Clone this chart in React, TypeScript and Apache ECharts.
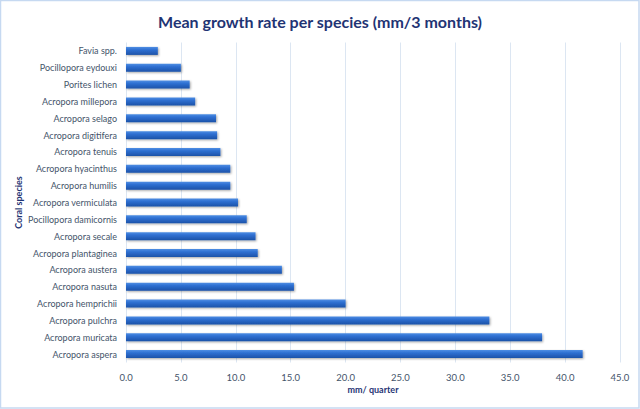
import React, { useEffect, useRef } from "react";
import * as echarts from "echarts";

const species = [
  "Favia spp.",
  "Pocillopora eydouxi",
  "Porites lichen",
  "Acropora millepora",
  "Acropora selago",
  "Acropora digitifera",
  "Acropora tenuis",
  "Acropora hyacinthus",
  "Acropora humilis",
  "Acropora vermiculata",
  "Pocillopora damicornis",
  "Acropora secale",
  "Acropora plantaginea",
  "Acropora austera",
  "Acropora nasuta",
  "Acropora hemprichii",
  "Acropora pulchra",
  "Acropora muricata",
  "Acropora aspera",
];

const growth = [
  2.9, 5.0, 5.8, 6.3, 8.2, 8.3, 8.6, 9.5, 9.5, 10.2, 11.0, 11.8, 12.0, 14.2,
  15.3, 20.0, 33.1, 37.9, 41.6,
];

const title = "Mean growth rate per species (mm/3 months)";
const xName = "mm/ quarter";
const yName = "Coral species";

export default function App() {
  const ref = useRef<HTMLDivElement>(null);
  useEffect(() => {
    document.body.style.margin = "0";
    const chart = echarts.init(ref.current!, null, { renderer: "svg" });
    const font = "Lato, 'Open Sans', sans-serif";
    chart.setOption({
      animation: false,
      backgroundColor: "#ffffff",
      textStyle: { fontFamily: font },
      title: {
        text: title,
        left: "center",
        top: 8,
        textStyle: {
          fontFamily: font,
          fontSize: 16,
          fontWeight: "bold",
          color: "#1f3474",
        },
      },
      graphic: [
        {
          type: "rect",
          shape: { x: 0.5, y: 0.5, width: 638.5, height: 407.5 },
          style: { fill: "none", stroke: "#c6d9f1", lineWidth: 1.5 },
          silent: true,
        },
      ],
      grid: {
        left: 126,
        right: 20,
        top: 42.5,
        bottom: 46.5,
        containLabel: false,
        outerBoundsMode: "none",
      },
      xAxis: {
        type: "value",
        min: 0,
        max: 45,
        interval: 5,
        name: xName,
        nameLocation: "middle",
        nameGap: 22,
        nameMoveOverlap: false,
        nameTextStyle: {
          fontFamily: font,
          fontSize: 9,
          fontWeight: "bold",
          color: "#1f3474",
        },
        axisLine: { show: false },
        axisTick: { show: false },
        axisLabel: {
          formatter: (v: number) => v.toFixed(1),
          fontSize: 9.5,
          color: "#44546a",
          margin: 10,
        },
        splitLine: { show: true, lineStyle: { color: "#dce6f2", width: 1 } },
      },
      yAxis: {
        type: "category",
        data: species,
        inverse: true,
        name: yName,
        nameLocation: "middle",
        nameGap: 103,
        nameRotate: 90,
        nameMoveOverlap: false,
        nameTextStyle: {
          fontFamily: font,
          fontSize: 9,
          fontWeight: "bold",
          color: "#1f3474",
        },
        axisLine: { show: false },
        axisTick: { show: false },
        axisLabel: { fontSize: 9, color: "#44546a", margin: 9 },
      },
      series: [
        {
          type: "bar",
          data: growth,
          barWidth: 8,
          itemStyle: {
            color: new echarts.graphic.LinearGradient(0, 0, 0, 1, [
              { offset: 0, color: "#4f8ee3" },
              { offset: 0.35, color: "#2f70d2" },
              { offset: 1, color: "#1c52a8" },
            ]),
            shadowColor: "rgba(0,0,0,0.35)",
            shadowBlur: 2,
            shadowOffsetX: 1,
            shadowOffsetY: 1,
          },
        },
      ],
    });
    return () => chart.dispose();
  }, []);
  return <div ref={ref} style={{ width: 640, height: 409 }} />;
}
